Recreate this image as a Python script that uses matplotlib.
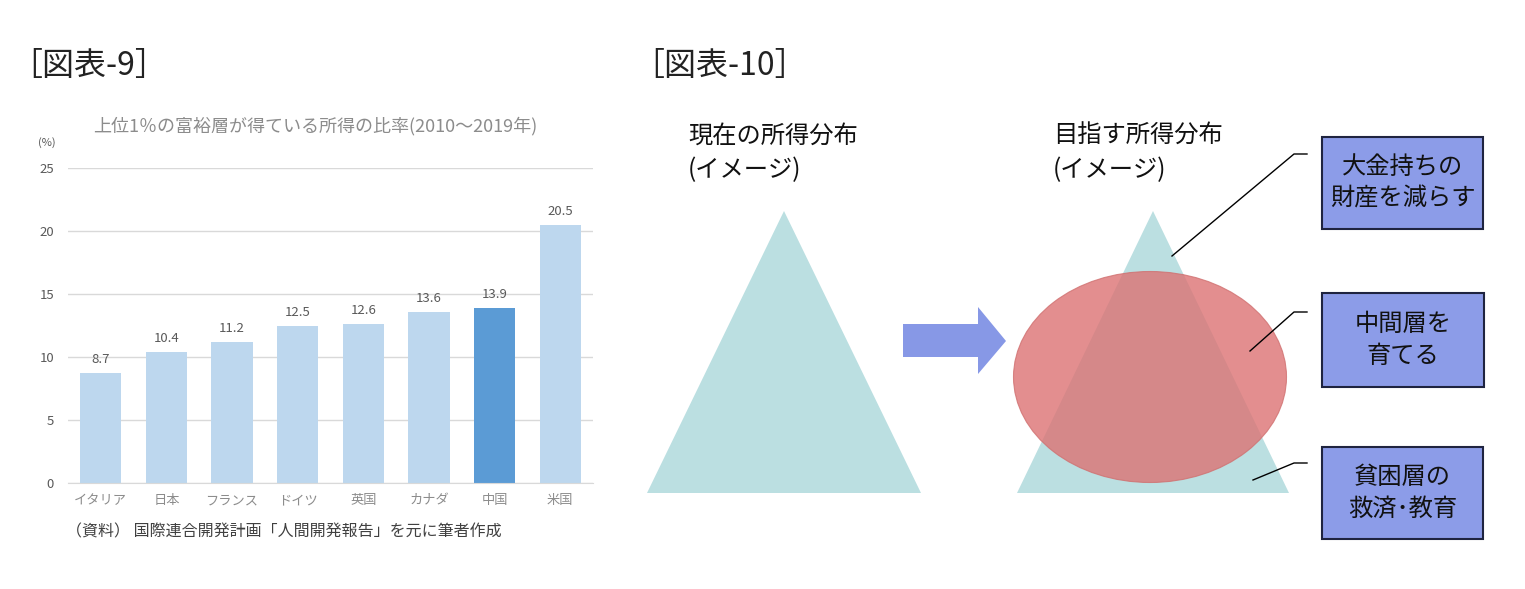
import matplotlib
matplotlib.use("Agg")
import matplotlib.pyplot as plt
from matplotlib.patches import Polygon, Ellipse, Rectangle

plt.rcParams['font.family'] = ['Noto Sans CJK JP', 'DejaVu Sans']

# chart 9 data
countries = ['イタリア', '日本', 'フランス', 'ドイツ', '英国', 'カナダ', '中国', '米国']
shares = [8.7, 10.4, 11.2, 12.5, 12.6, 13.6, 13.9, 20.5]
highlight = '中国'
yticks = [0, 5, 10, 15, 20, 25]

# chart 10 labels
now_label = '現在の所得分布\n(イメージ)'
goal_label = '目指す所得分布\n(イメージ)'
box_labels = ['大金持ちの\n財産を減らす', '中間層を\n育てる', '貧困層の\n救済･教育']

W, H = 1525, 589
fig = plt.figure(figsize=(W / 100, H / 100), dpi=100)

# ---- bar chart (図表-9) ----
ax = fig.add_axes([68 / W, (H - 483) / H, (593 - 68) / W, (483 - 168) / H])
colors = ['#5B9BD5' if c == highlight else '#BDD7EE' for c in countries]
x = range(len(countries))
bars = ax.bar(x, shares, width=0.63, color=colors, zorder=2)
for b, v in zip(bars, shares):
    ax.annotate(f'{v}', (b.get_x() + b.get_width() / 2, v), xytext=(0, 5),
                textcoords='offset points', ha='center', va='bottom',
                fontsize=9.5, color='#595959')
ax.set_xlim(-0.5, len(countries) - 0.5)
ax.set_ylim(0, 25)
ax.set_yticks(yticks)
ax.set_xticks(list(x))
ax.set_xticklabels(countries)
ax.grid(axis='y', color='#D9D9D9', lw=1, zorder=0)
for s in ['top', 'right', 'left']:
    ax.spines[s].set_visible(False)
ax.spines['bottom'].set_color('#D9D9D9')
ax.tick_params(length=0, labelsize=9.5, colors='#8C8C8C', pad=8)
ax.tick_params(axis='y', colors='#595959', pad=10)

# ---- overlay in pixel coordinates ----
ov = fig.add_axes([0, 0, 1, 1])
ov.set_xlim(0, W)
ov.set_ylim(H, 0)
ov.axis('off')
ov.set_zorder(-1)

ov.text(10, 66, '［図表-9］', fontsize=23, va='center', ha='left', color='#222222')
ov.text(632, 66, '［図表-10］', fontsize=23, va='center', ha='left', color='#222222')
ov.text(315, 126, '上位1％の富裕層が得ている所得の比率(2010～2019年)', fontsize=13,
        ha='center', va='center', color='#8C8C8C')
ov.text(47, 143, '(%)', fontsize=8, ha='center', va='center', color='#595959')
ov.text(66, 532, '（資料） 国際連合開発計画「人間開発報告」を元に筆者作成', fontsize=11.5,
        ha='left', va='center', color='#404040')

# ---- diagram (図表-10) ----
teal = '#BBDFE1'
ov.add_patch(Polygon([(784, 211), (647, 493), (921, 493)], closed=True, color=teal, lw=0))
ov.add_patch(Polygon([(1153, 211), (1017, 493), (1289, 493)], closed=True, color=teal, lw=0))
ov.add_patch(Ellipse((1150, 377), 273, 211, facecolor='#DC7273', alpha=0.8,
                     edgecolor='#D07070', lw=0.8))
ov.add_patch(Polygon([(903, 324), (978, 324), (978, 307), (1006, 341),
                      (978, 374), (978, 357), (903, 357)], closed=True,
                     color='#8798E6', lw=0))

ov.text(688, 153, now_label, fontsize=17.5, ha='left', va='center',
        linespacing=1.45, color='#111111')
ov.text(1053, 153, goal_label, fontsize=17.5, ha='left', va='center',
        linespacing=1.45, color='#111111')

boxes = [(1322, 137, 161, 92), (1322, 293, 162, 94), (1322, 447, 161, 92)]
leaders = [((1307, 154), (1294, 154), (1172, 256)),
           ((1307, 312), (1294, 312), (1250, 351)),
           ((1307, 463), (1294, 463), (1253, 480))]
for (bx, by, bw, bh), lab, pts in zip(boxes, box_labels, leaders):
    ov.add_patch(Rectangle((bx, by), bw, bh, facecolor='#8C9CE8',
                           edgecolor='#1F2440', lw=1.5))
    ov.text(bx + bw / 2, by + bh / 2, lab, fontsize=17.5, ha='center',
            va='center', linespacing=1.3, color='#111111')
    ov.plot([p[0] for p in pts], [p[1] for p in pts], color='black', lw=1)

fig.savefig('out.png', dpi=100)
